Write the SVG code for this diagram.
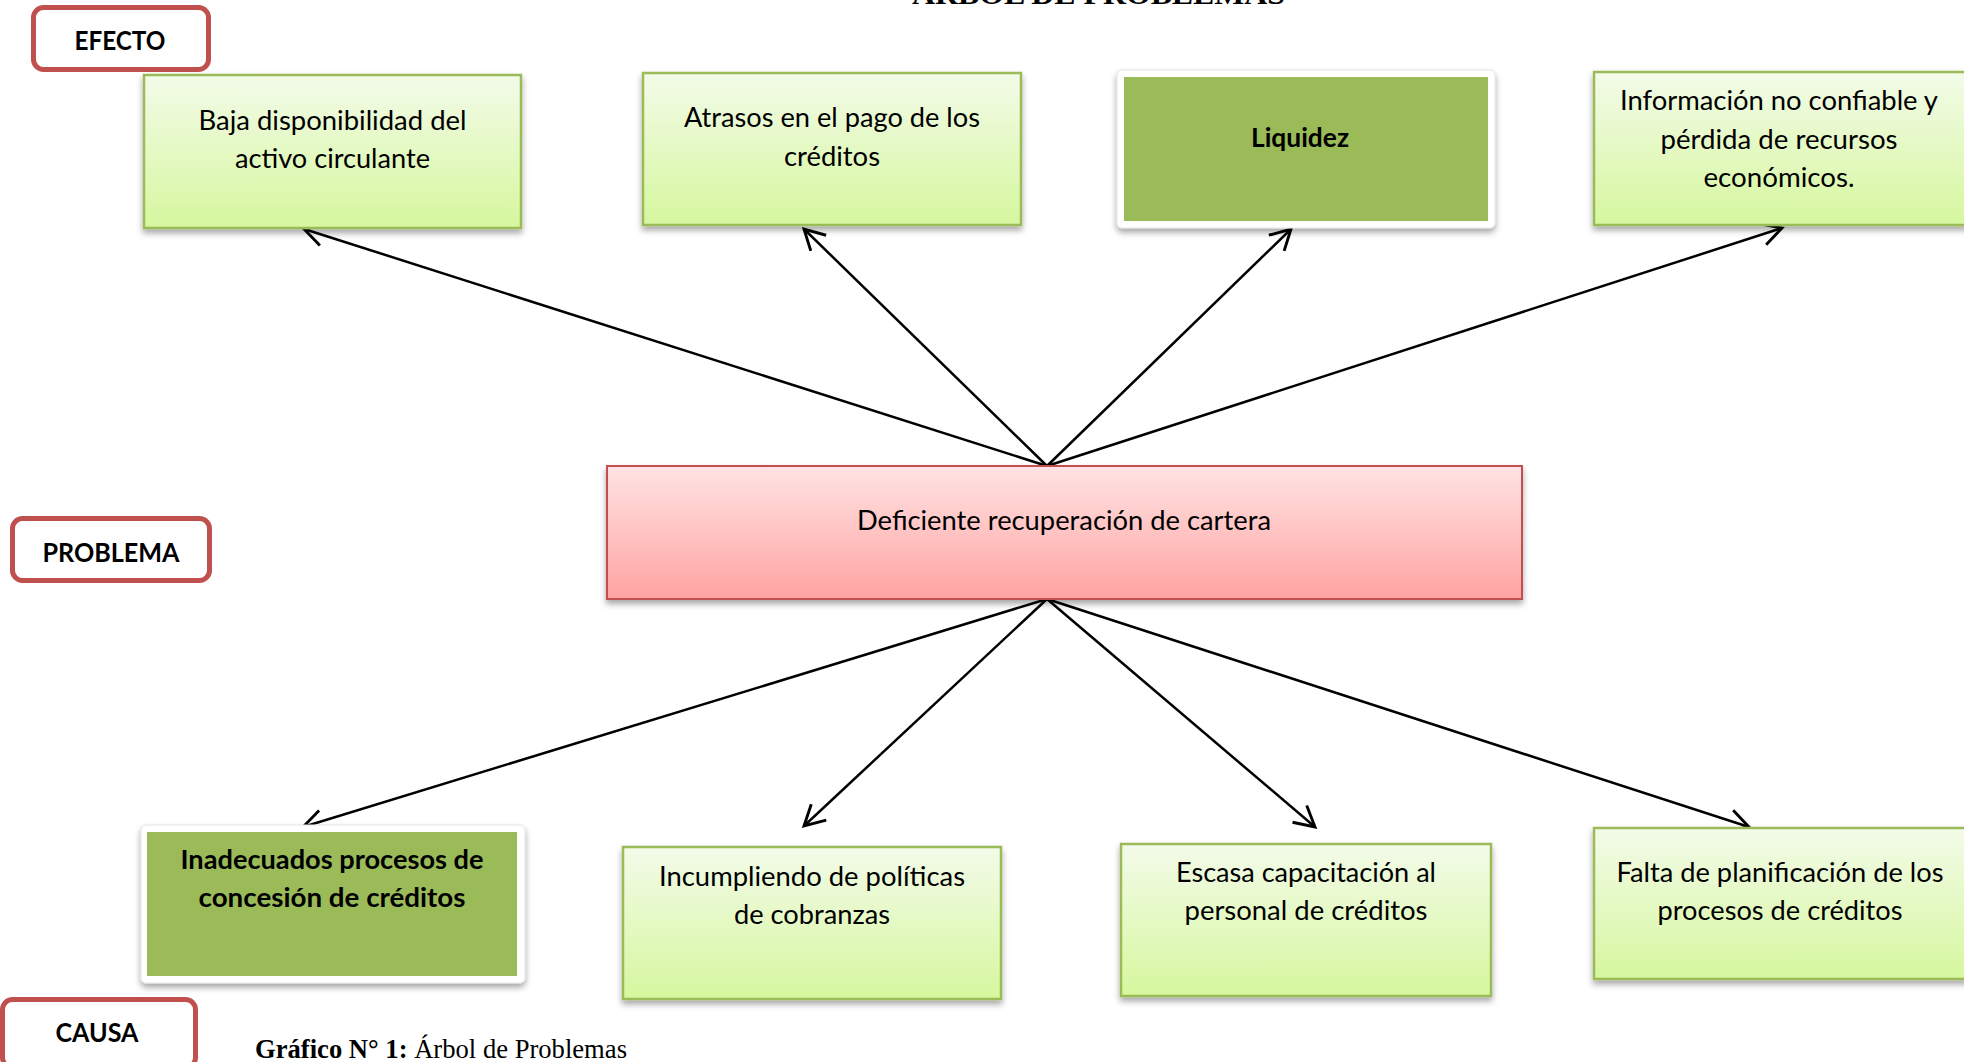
<svg xmlns="http://www.w3.org/2000/svg" width="1964" height="1062" viewBox="0 0 1964 1062">
  <style>
    .txt { font-family: Lato, "Open Sans", "Liberation Sans", sans-serif; font-size: 26px; fill: #000; text-anchor: middle; }
    .bold { font-weight: bold; }
    .tag { fill: #fff; stroke: #C0504D; stroke-width: 5; }
    .leaf { fill: url(#gGreen); stroke: #9BBB59; stroke-width: 2.5; filter: url(#shadow); }
    .frame { fill: #fff; stroke: #e4e4e4; stroke-width: 1; filter: url(#shadow); }
    .solid { fill: #9BBB59; }
    .core { fill: url(#gPink); stroke: #C0504D; stroke-width: 2; filter: url(#shadow); }
    .link { stroke: #000; stroke-width: 2.5; fill: none; marker-end: url(#open); }
    .caption { font-family: "Liberation Serif", "Times New Roman", serif; font-size: 27px; fill: #000; }
  </style>
  <defs>
    <linearGradient id="gGreen" x1="0" y1="0" x2="0" y2="1">
      <stop offset="0" stop-color="#F3FBE9"/>
      <stop offset="1" stop-color="#D6F79E"/>
    </linearGradient>
    <linearGradient id="gPink" x1="0" y1="0" x2="0" y2="1">
      <stop offset="0" stop-color="#FFE3E3"/>
      <stop offset="1" stop-color="#FFA3A2"/>
    </linearGradient>
    <filter id="shadow" x="-5%" y="-10%" width="110%" height="130%">
      <feDropShadow dx="0" dy="4" stdDeviation="3" flood-color="#000" flood-opacity="0.35"/>
    </filter>
    <marker id="open" markerUnits="userSpaceOnUse" markerWidth="30" markerHeight="30" viewBox="-22 -12 26 24" refX="0" refY="0" orient="auto" overflow="visible">
      <path d="M -17.5 -9.5 L 0 0 L -17.5 9.5" fill="none" stroke="#000" stroke-width="2.5"/>
    </marker>
  </defs>

  <rect width="1964" height="1062" fill="#fff"/>

  <!-- title, partly above the top edge -->
  <text x="912" y="3.5" font-family="Liberation Serif, serif" font-weight="bold" font-size="30" textLength="373" lengthAdjust="spacingAndGlyphs">ÁRBOL DE PROBLEMAS</text>

  <!-- section tags -->
  <g id="tag-efecto">
    <rect class="tag" x="33.5" y="7.5" width="175" height="62" rx="10"/>
    <text class="txt bold" x="120" y="50" font-size="24" textLength="91" lengthAdjust="spacingAndGlyphs">EFECTO</text>
  </g>
  <g id="tag-problema">
    <rect class="tag" x="12.5" y="518.5" width="197" height="62" rx="10"/>
    <text class="txt bold" x="111" y="562" font-size="25" textLength="137" lengthAdjust="spacingAndGlyphs">PROBLEMA</text>
  </g>
  <g id="tag-causa">
    <rect class="tag" x="2.5" y="999.5" width="193" height="68" rx="10"/>
    <text class="txt bold" x="97" y="1042" font-size="25" textLength="83" lengthAdjust="spacingAndGlyphs">CAUSA</text>
  </g>

  <!-- connectors -->
  <g id="connectors">
    <line class="link" x1="1047" y1="466" x2="304" y2="229"/>
    <line class="link" x1="1047" y1="466" x2="804" y2="229"/>
    <line class="link" x1="1047" y1="466" x2="1291" y2="229"/>
    <line class="link" x1="1047" y1="466" x2="1782" y2="228"/>
    <line class="link" x1="1047" y1="599" x2="303" y2="827"/>
    <line class="link" x1="1047" y1="599" x2="804" y2="826"/>
    <line class="link" x1="1047" y1="599" x2="1315" y2="827"/>
    <line class="link" x1="1047" y1="599" x2="1749" y2="827"/>
  </g>

  <!-- effects -->
  <g id="effect-1">
    <rect class="leaf" x="144" y="75" width="377" height="153"/>
    <text class="txt" x="332.5" y="130" textLength="268" lengthAdjust="spacingAndGlyphs">Baja disponibilidad del</text>
    <text class="txt" x="332.5" y="168" textLength="195" lengthAdjust="spacingAndGlyphs">activo circulante</text>
  </g>
  <g id="effect-2">
    <rect class="leaf" x="643" y="73" width="378" height="152"/>
    <text class="txt" x="832" y="127" textLength="296" lengthAdjust="spacingAndGlyphs">Atrasos en el pago de los</text>
    <text class="txt" x="832" y="166" textLength="96" lengthAdjust="spacingAndGlyphs">créditos</text>
  </g>
  <g id="effect-3">
    <rect class="frame" x="1117" y="70" width="378" height="158" rx="5"/>
    <rect class="solid" x="1124" y="77" width="364" height="144"/>
    <text class="txt bold" x="1300" y="147" textLength="98" lengthAdjust="spacingAndGlyphs">Liquidez</text>
  </g>
  <g id="effect-4">
    <rect class="leaf" x="1594" y="72" width="378" height="153"/>
    <text class="txt" x="1779" y="110" textLength="318" lengthAdjust="spacingAndGlyphs">Información no confiable y</text>
    <text class="txt" x="1779" y="149" textLength="237" lengthAdjust="spacingAndGlyphs">pérdida de recursos</text>
    <text class="txt" x="1779" y="187" textLength="151" lengthAdjust="spacingAndGlyphs">económicos.</text>
  </g>

  <!-- central problem -->
  <g id="problem">
    <rect class="core" x="607" y="466" width="915" height="133"/>
    <text class="txt" x="1064" y="530" textLength="414" lengthAdjust="spacingAndGlyphs">Deficiente recuperación de cartera</text>
  </g>

  <!-- causes -->
  <g id="cause-1">
    <rect class="frame" x="141" y="825" width="384" height="158" rx="5"/>
    <rect class="solid" x="147" y="832" width="370" height="144"/>
    <text class="txt bold" x="332" y="869" textLength="303" lengthAdjust="spacingAndGlyphs">Inadecuados procesos de</text>
    <text class="txt bold" x="332" y="907" textLength="267" lengthAdjust="spacingAndGlyphs">concesión de créditos</text>
  </g>
  <g id="cause-2">
    <rect class="leaf" x="623" y="847" width="378" height="152"/>
    <text class="txt" x="812" y="886" textLength="306" lengthAdjust="spacingAndGlyphs">Incumpliendo de políticas</text>
    <text class="txt" x="812" y="924" textLength="156" lengthAdjust="spacingAndGlyphs">de cobranzas</text>
  </g>
  <g id="cause-3">
    <rect class="leaf" x="1121" y="844" width="370" height="152"/>
    <text class="txt" x="1306" y="882" textLength="260" lengthAdjust="spacingAndGlyphs">Escasa capacitación al</text>
    <text class="txt" x="1306" y="920" textLength="243" lengthAdjust="spacingAndGlyphs">personal de créditos</text>
  </g>
  <g id="cause-4">
    <rect class="leaf" x="1594" y="828" width="378" height="151"/>
    <text class="txt" x="1780" y="882" textLength="327" lengthAdjust="spacingAndGlyphs">Falta de planificación de los</text>
    <text class="txt" x="1780" y="920" textLength="245" lengthAdjust="spacingAndGlyphs">procesos de créditos</text>
  </g>

  <!-- figure caption -->
  <text class="caption" x="255" y="1058" textLength="372" lengthAdjust="spacingAndGlyphs"><tspan font-weight="bold">Gráfico N° 1:</tspan> Árbol de Problemas</text>
</svg>
